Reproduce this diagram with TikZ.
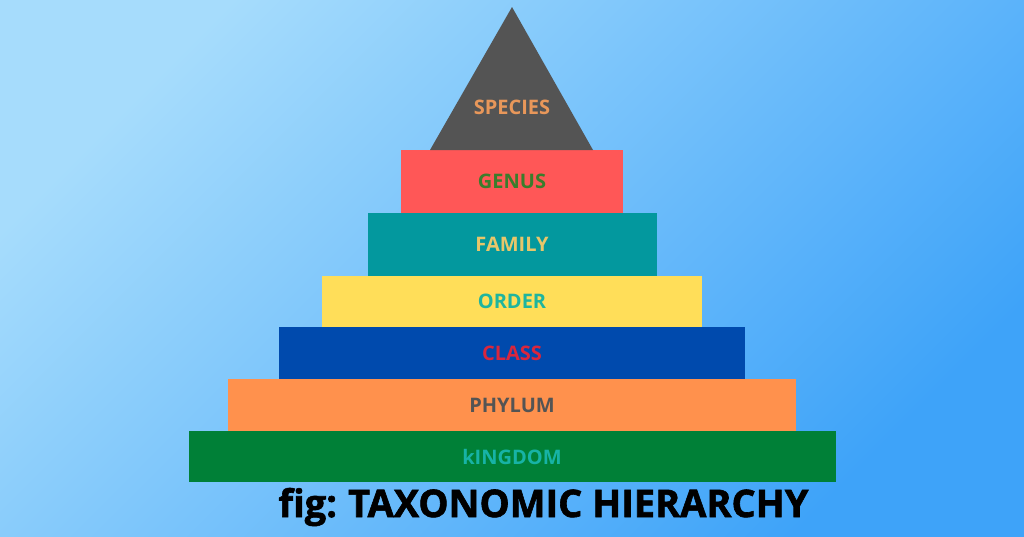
\documentclass[tikz,border=0pt]{standalone}
\usepackage{fontspec}
\setmainfont{Open Sans}
\newfontfamily\heavyfont[BoldFeatures={FakeBold=1.6}]{Open Sans}
\usetikzlibrary{positioning}
\definecolor{skylight}{HTML}{A6DCFC}
\definecolor{skydeep}{HTML}{3EA3F9}
\definecolor{speciesgray}{HTML}{545454}
\definecolor{speciestext}{HTML}{E8975A}
\definecolor{genusred}{HTML}{FF5757}
\definecolor{genustext}{HTML}{3A7D2C}
\definecolor{familyteal}{HTML}{03989E}
\definecolor{familytext}{HTML}{E8C66A}
\definecolor{orderyellow}{HTML}{FFDE59}
\definecolor{ordertext}{HTML}{1FB59E}
\definecolor{classblue}{HTML}{004AAD}
\definecolor{classtext}{HTML}{D9263D}
\definecolor{phylumorange}{HTML}{FF914D}
\definecolor{phylumtext}{HTML}{545454}
\definecolor{kingdomgreen}{HTML}{008037}
\definecolor{kingdomtext}{HTML}{17B3A6}
\begin{document}
\begin{tikzpicture}[
    x=1pt, y=-1pt,
    tier/.style={inner sep=0pt, outer sep=0pt, minimum height=#1,
      font=\fontsize{20}{24}\selectfont\bfseries},
    caption/.style={font=\heavyfont\fontsize{38}{44}\selectfont\bfseries, inner sep=0pt}]
  \useasboundingbox (0,0) rectangle (1024,536);
  \shade[top color=skylight, bottom color=skydeep, shading angle=45]
    (0,0) rectangle (1024,536);
  \node[tier=51pt, minimum width=647pt, fill=kingdomgreen, text=kingdomtext]
    (kingdom) at (512,456.5) {kINGDOM};
  \node[tier=52pt, minimum width=568pt, fill=phylumorange, text=phylumtext,
    above=0pt of kingdom] (phylum) {PHYLUM};
  \node[tier=52pt, minimum width=466pt, fill=classblue, text=classtext,
    above=0pt of phylum] (class) {CLASS};
  \node[tier=51pt, minimum width=380pt, fill=orderyellow, text=ordertext,
    above=0pt of class] (order) {ORDER};
  \node[tier=63pt, minimum width=289pt, fill=familyteal, text=familytext,
    above=0pt of order] (family) {FAMILY};
  \node[tier=63pt, minimum width=222pt, fill=genusred, text=genustext,
    above=0pt of family] (genus) {GENUS};
  \coordinate (apex) at (512,7);
  \fill[speciesgray] ([xshift=-82pt]genus.north) -- (apex)
    -- ([xshift=81pt]genus.north) -- cycle;
  \node[tier=0pt, text=speciestext] (species) at (512,107) {SPECIES};
  \node[caption, anchor=base] (title) at (543.5,517) {fig:\hspace{-2pt} TAXONOMIC HIERARCHY};
\end{tikzpicture}
\end{document}
